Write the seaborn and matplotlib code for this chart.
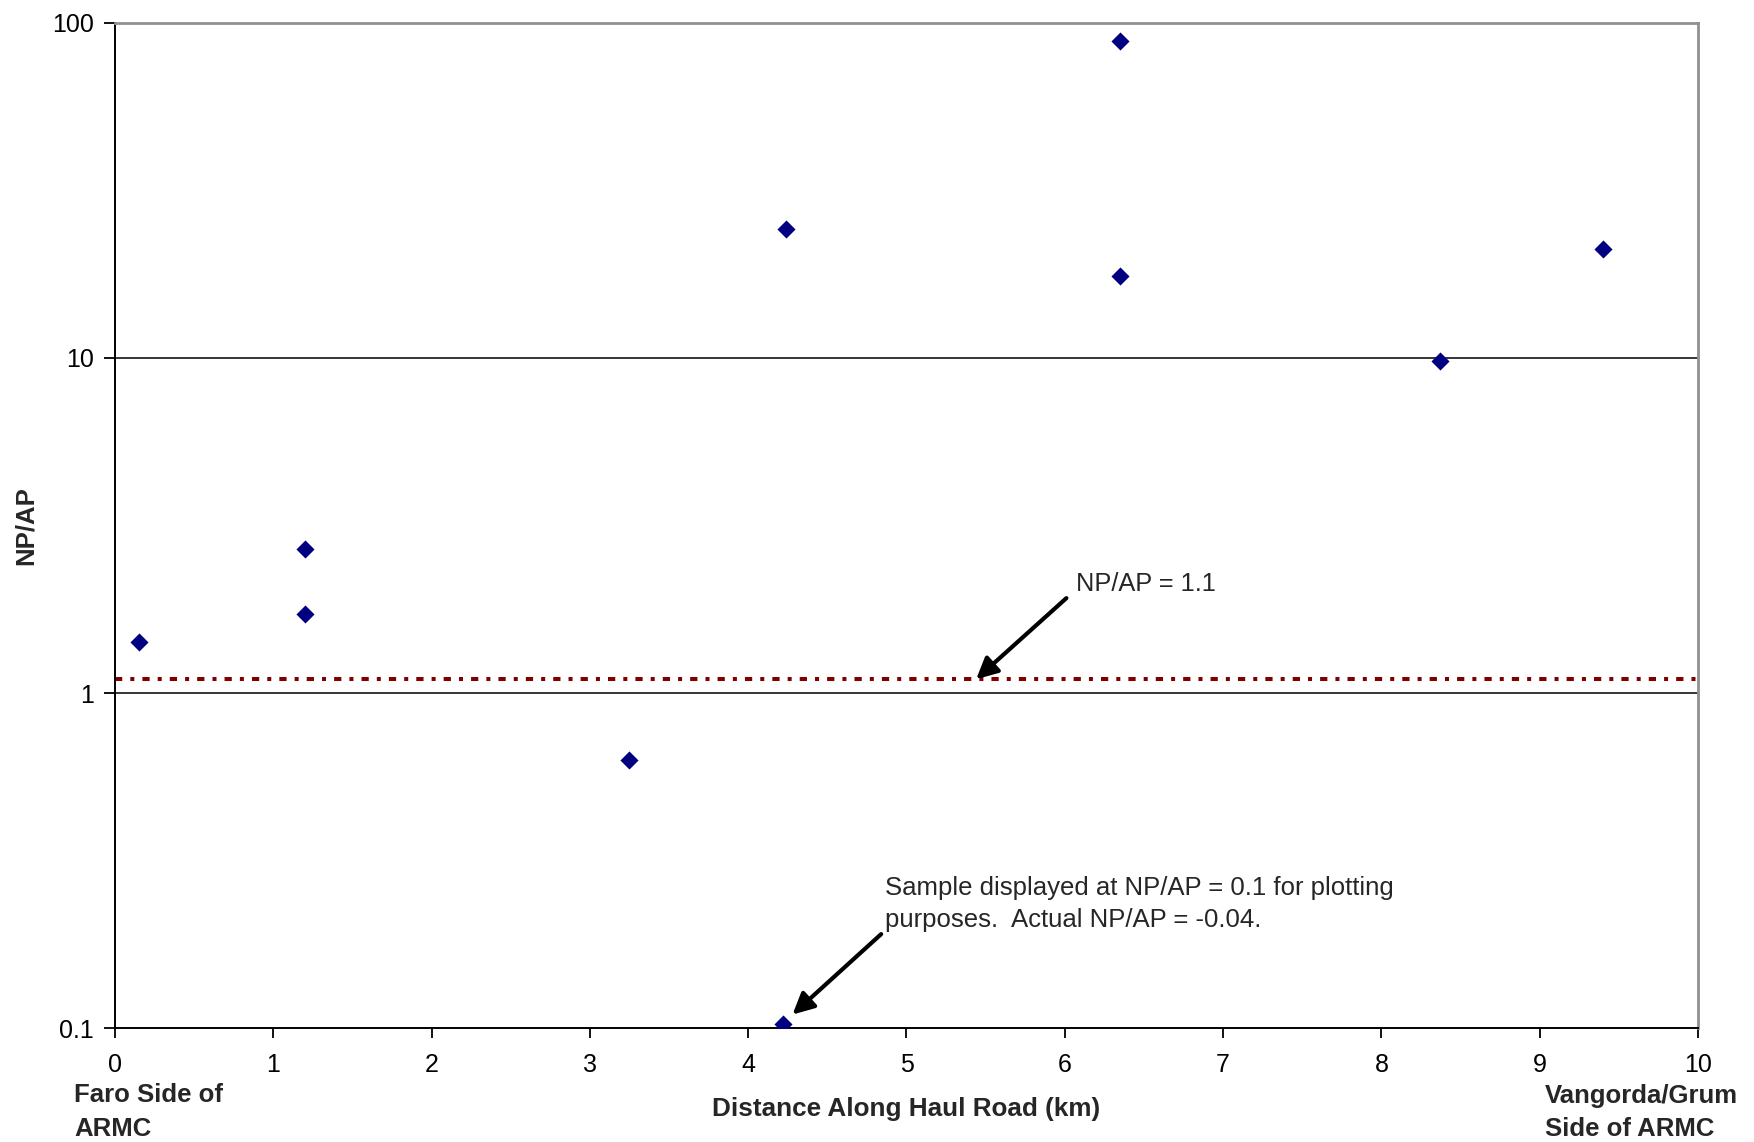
import matplotlib
matplotlib.use("Agg")
import matplotlib.pyplot as plt
import pandas as pd
import seaborn as sns

# distance along haul road (km) and NP/AP
distance_km = [0.15, 1.20, 1.20, 3.25, 4.22, 4.24, 6.35, 6.35, 8.37, 9.40]
np_ap = [1.42, 2.69, 1.72, 0.631, 0.103, 24.2, 88.0, 17.6, 9.79, 21.2]

threshold = 1.1
y_ticks = [0.1, 1, 10, 100]
y_tick_labels = ['0.1', '1', '10', '100']
x_ticks = list(range(0, 11))

df = pd.DataFrame({'distance': distance_km, 'npap': np_ap})

sns.set_theme(style="white")
plt.rcParams['font.family'] = ['Liberation Sans', 'DejaVu Sans']

fig = plt.figure(figsize=(17.54, 11.42), dpi=100)
ax = fig.add_axes([115 / 1754, 1 - 1028.3 / 1142, (1698 - 115) / 1754, (1028.3 - 22.7) / 1142])

ax.set_yscale('log')
ax.set_xlim(0, 10)
ax.set_ylim(0.1, 100)

ax.axhline(threshold, color='#800000', lw=2.9, dashes=(1.8, 2.0, 1.0, 2.0), zorder=2)

sns.scatterplot(data=df, x='distance', y='npap', marker='D', s=85, color='#000080',
                linewidth=0, ax=ax, zorder=3)

ax.set_yticks(y_ticks)
ax.set_yticklabels(y_tick_labels)
ax.yaxis.set_minor_locator(matplotlib.ticker.NullLocator())
ax.set_xticks(x_ticks)
ax.tick_params(axis='both', labelsize=18, colors='black')
ax.tick_params(axis='x', bottom=True, direction='out', length=7, width=1.3, pad=11)
ax.tick_params(axis='y', left=True, direction='out', length=8, width=1.3, pad=7)

ax.grid(False)
for yv in [1, 10]:
    ax.axhline(yv, color='black', lw=1.1, zorder=1)

for side in ['left', 'bottom']:
    ax.spines[side].set_color('black')
    ax.spines[side].set_linewidth(1.4)
for side in ['top', 'right']:
    ax.spines[side].set_color('#909090')
    ax.spines[side].set_linewidth(2)

ax.set_xlabel('')
ax.set_ylabel('NP/AP', fontsize=18.5, fontweight='bold')
ax.yaxis.set_label_coords(-0.049, 0.5)

fig.text(906 / 1754, 1 - 1116 / 1142, 'Distance Along Haul Road (km)', ha='center', va='baseline',
         fontsize=18.8, fontweight='bold')
fig.text(74 / 1754, 1 - 1136 / 1142, 'Faro Side of\nARMC', ha='left', va='baseline',
         fontsize=18.5, fontweight='bold', linespacing=1.5)
fig.text(1545 / 1754, 1 - 1136 / 1142, 'Vangorda/Grum\nSide of ARMC', ha='left', va='baseline',
         fontsize=18.5, fontweight='bold', linespacing=1.5)

arrow = dict(arrowstyle='-|>', color='black', lw=3, mutation_scale=32, shrinkA=0, shrinkB=0)
ax.annotate('', xy=(5.44, 1.1), xytext=(6.01, 1.92), arrowprops=arrow)
ax.text(6.07, 2.02, 'NP/AP = 1.1', fontsize=18.3, ha='left', va='baseline')

ax.annotate('', xy=(4.28, 0.1099), xytext=(4.84, 0.191), arrowprops=arrow)
ax.text(4.864, 0.201, 'Sample displayed at NP/AP = 0.1 for plotting\npurposes.  Actual NP/AP = -0.04.',
        fontsize=18.5, ha='left', va='baseline', linespacing=1.4)

fig.savefig('out.png', dpi=100)
